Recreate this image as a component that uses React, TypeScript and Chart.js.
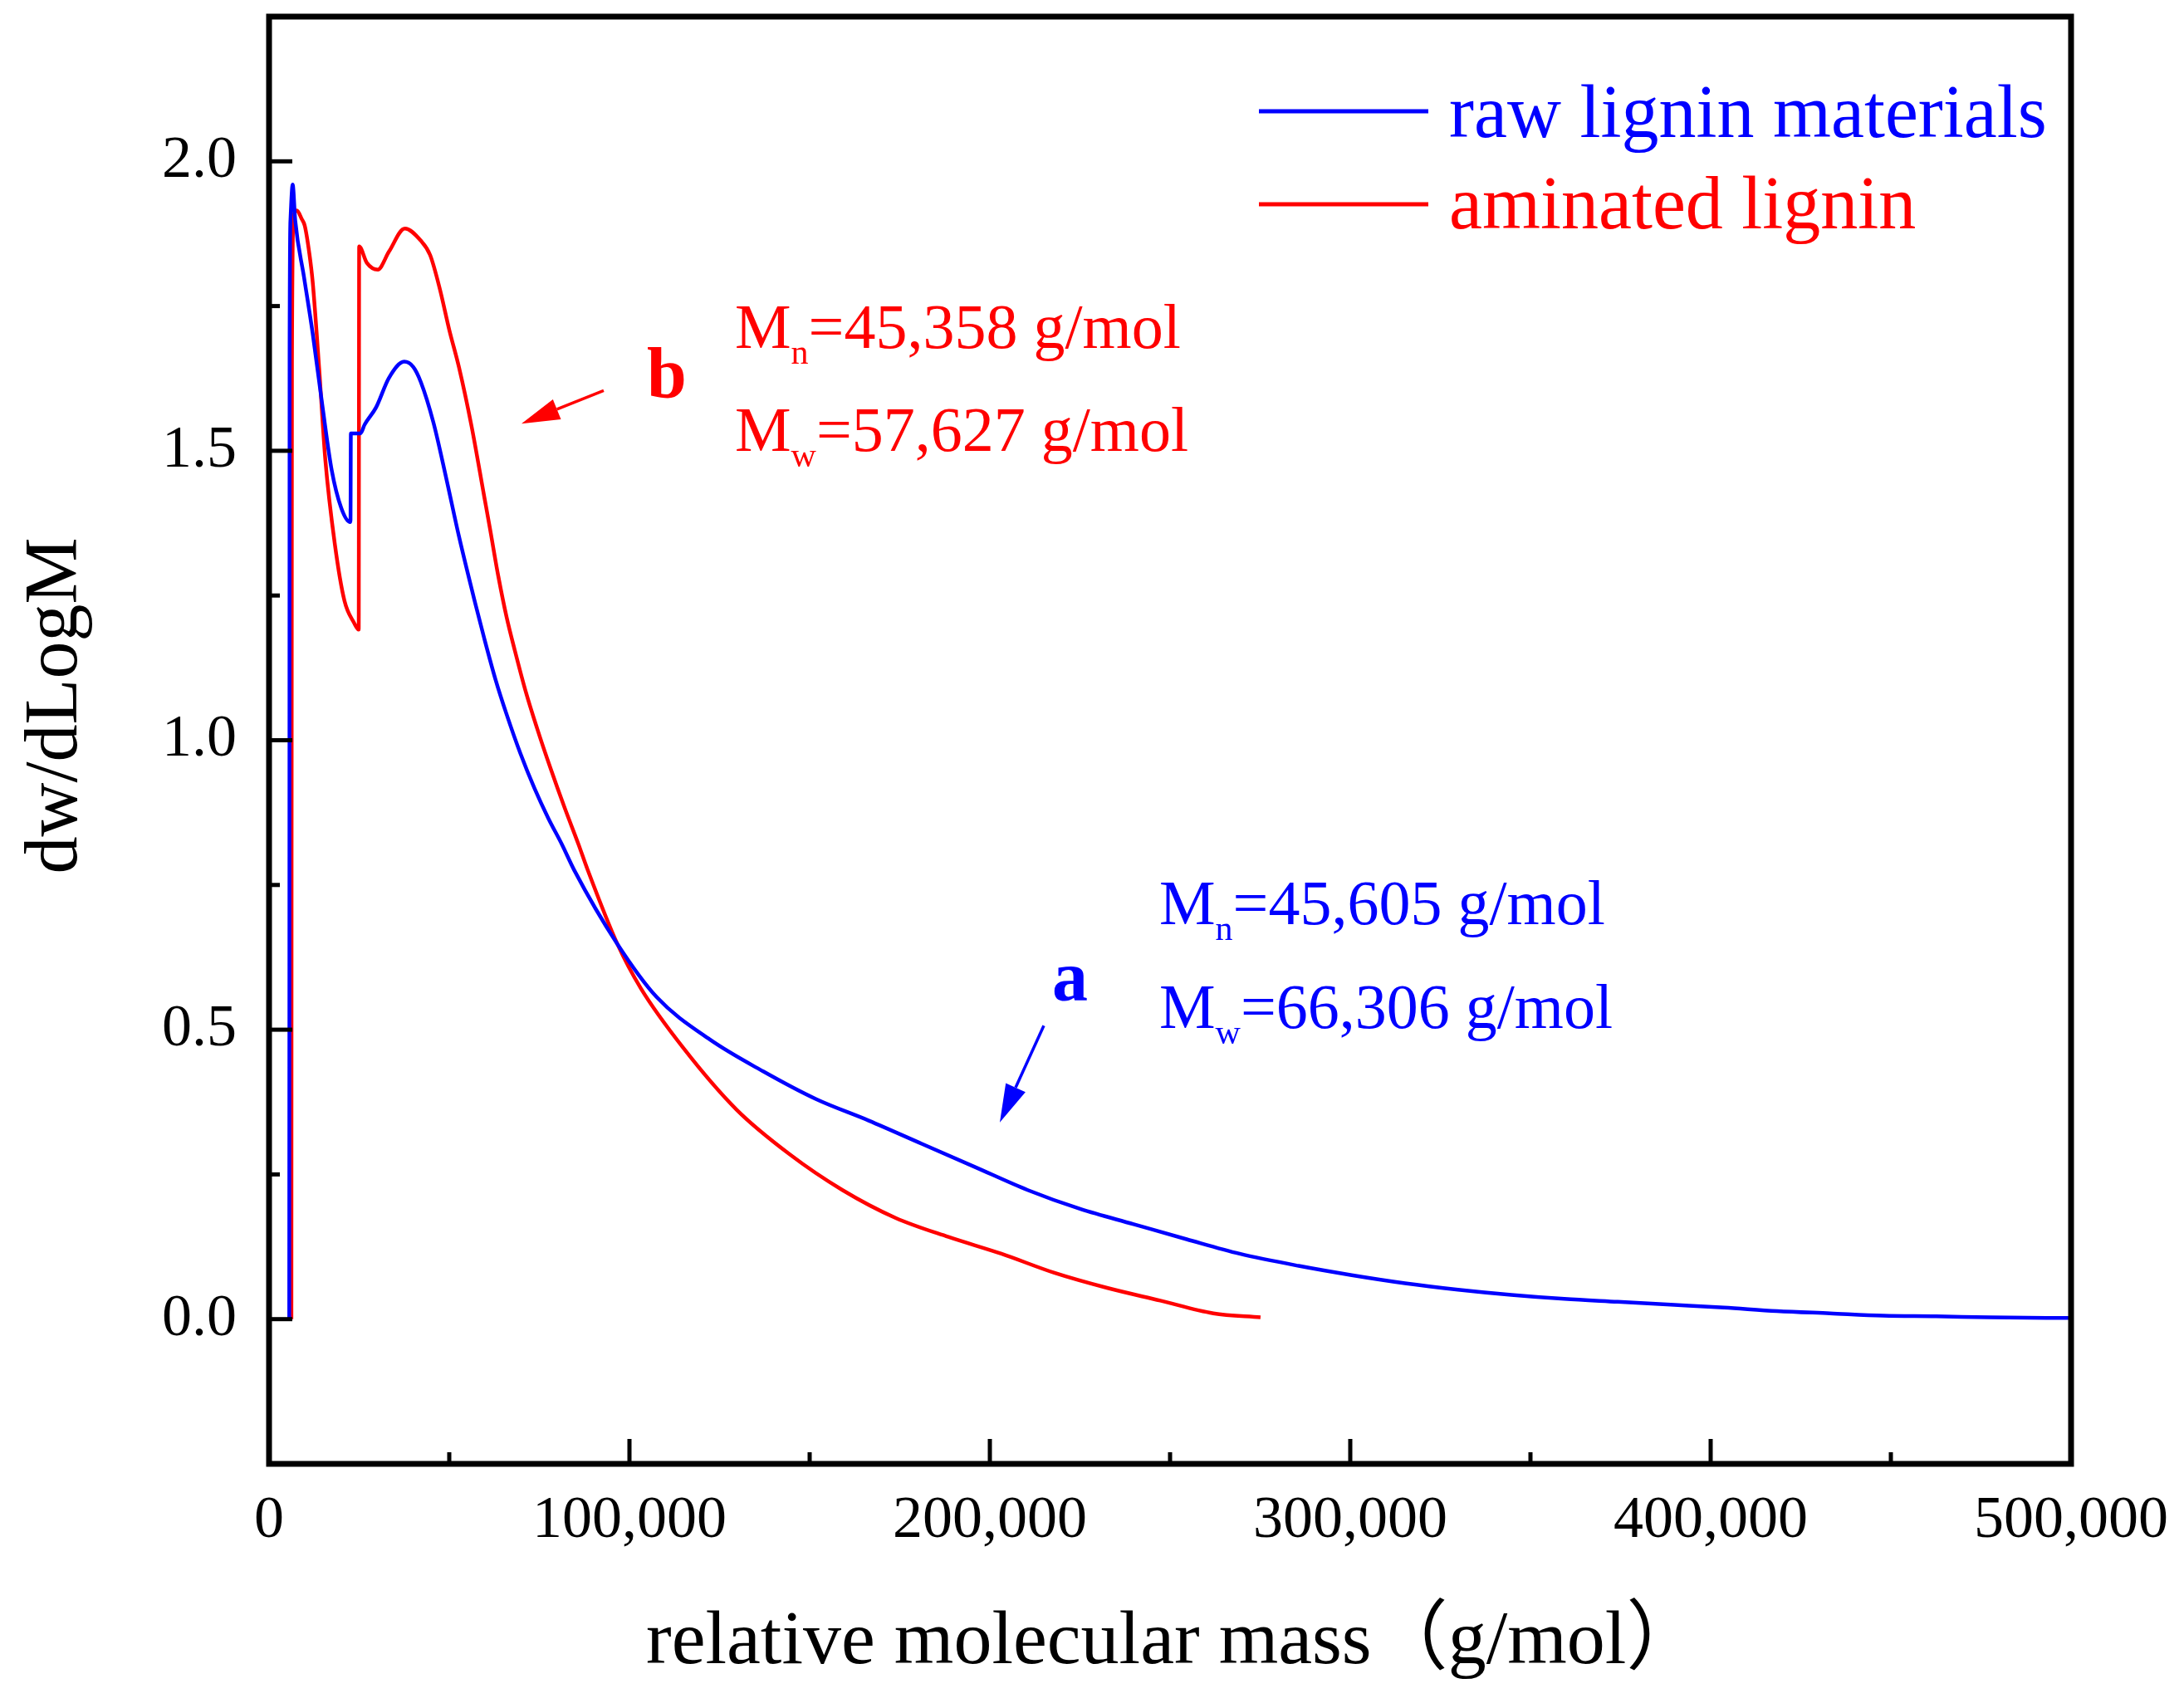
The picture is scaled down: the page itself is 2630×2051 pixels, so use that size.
import React, { useEffect, useRef } from 'react';
import { Chart, registerables } from 'chart.js';

Chart.register(...registerables);

// ---------- data ----------
const SERIES_LABELS = ['raw lignin materials', 'aminated lignin'];
const SERIES_COLORS = ['#0000ff', '#ff0000'];

const RAW_X = [
  5600, 5650, 5700, 5950, 6550, 7260, 9700, 12100, 14750, 17400, 20050, 22500, 22600, 22700,
  25350, 26500, 29700, 33270, 37500, 40000, 42100, 45600, 49150, 52700, 57070, 59750, 62830,
  65900, 69750, 73570, 77420, 81260, 84720, 96650, 107600, 122300, 137100, 151800, 166400,
  181100, 195800, 210500, 225200, 239900, 254600, 269300, 285700, 300400, 315200, 329900,
  344700, 359400, 374200, 388900, 403700, 418400, 433100, 447900, 462600, 477400, 500000,
];
const RAW_Y = [
  0, 0.61, 1.66, 1.9, 1.96, 1.898, 1.8, 1.703, 1.58, 1.466, 1.401, 1.377, 1.38, 1.53,
  1.53, 1.545, 1.575, 1.626, 1.654, 1.645, 1.619, 1.549, 1.453, 1.352, 1.24, 1.175, 1.105,
  1.045, 0.977, 0.918, 0.866, 0.82, 0.775, 0.648, 0.556, 0.483, 0.428, 0.38, 0.343,
  0.303, 0.263, 0.223, 0.19, 0.164, 0.138, 0.113, 0.092, 0.076, 0.062, 0.051,
  0.042, 0.035, 0.03, 0.025, 0.02, 0.014, 0.01, 0.006, 0.005, 0.003, 0.002,
];

const AMINATED_X = [
  6200, 6250, 6350, 6800, 7700, 9100, 9900, 11200, 12100, 13870, 15620, 18270, 20920, 23570,
  24880, 25000, 27100, 30180, 33270, 37670, 42100, 44700, 47370, 50000, 52670, 56200, 59700,
  61290, 63590, 65900, 68200, 71270, 74350, 78180, 82030, 85870, 88170, 96650, 103200, 115000,
  129700, 144400, 159100, 173800, 188500, 203200, 217900, 232500, 247300, 262000, 275100,
];
const AMINATED_Y = [
  0, 0.8, 1.65, 1.905, 1.915, 1.9, 1.889, 1.84, 1.792, 1.645, 1.484, 1.338, 1.241, 1.203,
  1.191, 1.853, 1.825, 1.813, 1.844, 1.884, 1.863, 1.838, 1.78, 1.709, 1.645, 1.542, 1.421,
  1.366, 1.284, 1.213, 1.155, 1.083, 1.021, 0.95, 0.883, 0.82, 0.78, 0.648, 0.571, 0.468,
  0.362, 0.285, 0.223, 0.175, 0.142, 0.113, 0.08, 0.054, 0.032, 0.01, 0.003,
];

const X_TICKS = [0, 100000, 200000, 300000, 400000, 500000];
const X_MINOR = [50000, 150000, 250000, 350000, 450000];
const Y_TICKS = [0, 0.5, 1.0, 1.5, 2.0];
const Y_MINOR = [0.25, 0.75, 1.25, 1.75];

const X_TITLE = 'relative molecular mass（g/mol）';
const Y_TITLE = 'dw/dLogM';

// annotation texts, anchored in data coordinates
const ANNOTATIONS = [
  { x: 129260, y: 1.678, main: 'M', sub: 'n', rest: '=45,358 g/mol', color: '#ff0000' },
  { x: 129260, y: 1.5, main: 'M', sub: 'w', rest: '=57,627 g/mol', color: '#ff0000' },
  { x: 247000, y: 0.682, main: 'M', sub: 'n', rest: '=45,605 g/mol', color: '#0000ff' },
  { x: 247000, y: 0.503, main: 'M', sub: 'w', rest: '=66,306 g/mol', color: '#0000ff' },
];
const LETTERS = [
  { x: 104840, y: 1.593, text: 'b', color: '#ff0000' },
  { x: 217280, y: 0.55, text: 'a', color: '#0000ff' },
];
const ARROWS = [
  { x0: 92850, y0: 1.604, x1: 70040, y1: 1.547, color: '#ff0000' },
  { x0: 214970, y0: 0.507, x1: 202760, y1: 0.34, color: '#0000ff' },
];

const SERIF = "'Liberation Serif', 'Times New Roman', 'Noto Sans CJK SC', serif";

const decorPlugin = {
  id: 'decor',
  afterDraw(chart: any) {
    const { ctx, chartArea: a, scales } = chart;
    const xs = scales.x;
    const ys = scales.y;
    ctx.save();

    // inward ticks
    ctx.strokeStyle = '#000';
    ctx.lineCap = 'butt';
    ctx.lineWidth = 5;
    const seg = (x0: number, y0: number, x1: number, y1: number) => {
      ctx.beginPath();
      ctx.moveTo(x0, y0);
      ctx.lineTo(x1, y1);
      ctx.stroke();
    };
    X_TICKS.forEach((v) => {
      const p = xs.getPixelForValue(v);
      seg(p, a.bottom, p, a.bottom - 30);
    });
    X_MINOR.forEach((v) => {
      const p = xs.getPixelForValue(v);
      seg(p, a.bottom, p, a.bottom - 14);
    });
    Y_TICKS.forEach((v) => {
      const p = ys.getPixelForValue(v);
      seg(a.left, p, a.left + 28, p);
    });
    Y_MINOR.forEach((v) => {
      const p = ys.getPixelForValue(v);
      seg(a.left, p, a.left + 13, p);
    });

    // frame
    ctx.lineWidth = 7;
    ctx.strokeRect(a.left, a.top, a.right - a.left, a.bottom - a.top);

    // legend
    const legendLineX0 = a.left + 1192;
    const legendLineX1 = a.left + 1396;
    const legendTextX = a.left + 1421;
    const rows = [
      { lineY: a.top + 114, base: a.top + 145 },
      { lineY: a.top + 226, base: a.top + 255 },
    ];
    chart.data.datasets.forEach((ds: any, i: number) => {
      const r = rows[i];
      ctx.strokeStyle = ds.borderColor;
      ctx.lineWidth = 5;
      seg(legendLineX0, r.lineY, legendLineX1, r.lineY);
      ctx.fillStyle = ds.borderColor;
      ctx.font = `90px ${SERIF}`;
      ctx.textAlign = 'left';
      ctx.textBaseline = 'alphabetic';
      ctx.fillText(ds.label, legendTextX, r.base);
    });

    // annotations with subscripts
    ANNOTATIONS.forEach((an) => {
      let px = xs.getPixelForValue(an.x);
      const py = ys.getPixelForValue(an.y);
      ctx.fillStyle = an.color;
      ctx.textAlign = 'left';
      ctx.textBaseline = 'alphabetic';
      ctx.font = `76px ${SERIF}`;
      ctx.fillText(an.main, px, py);
      px += ctx.measureText(an.main).width;
      ctx.font = `42px ${SERIF}`;
      ctx.fillText(an.sub, px, py + 19);
      px += ctx.measureText(an.sub).width;
      ctx.font = `76px ${SERIF}`;
      ctx.fillText(an.rest, px, py);
    });

    LETTERS.forEach((l) => {
      ctx.fillStyle = l.color;
      ctx.font = `bold 86px ${SERIF}`;
      ctx.textAlign = 'left';
      ctx.textBaseline = 'alphabetic';
      ctx.fillText(l.text, xs.getPixelForValue(l.x), ys.getPixelForValue(l.y));
    });

    ARROWS.forEach((ar) => {
      const x0 = xs.getPixelForValue(ar.x0);
      const y0 = ys.getPixelForValue(ar.y0);
      const x1 = xs.getPixelForValue(ar.x1);
      const y1 = ys.getPixelForValue(ar.y1);
      const ang = Math.atan2(y1 - y0, x1 - x0);
      const head = 46;
      const half = 13;
      const bx = x1 - head * Math.cos(ang);
      const by = y1 - head * Math.sin(ang);
      ctx.strokeStyle = ar.color;
      ctx.fillStyle = ar.color;
      ctx.lineWidth = 3.5;
      seg(x0, y0, bx, by);
      ctx.beginPath();
      ctx.moveTo(x1, y1);
      ctx.lineTo(bx + half * Math.sin(ang), by - half * Math.cos(ang));
      ctx.lineTo(bx - half * Math.sin(ang), by + half * Math.cos(ang));
      ctx.closePath();
      ctx.fill();
    });

    // axis titles
    ctx.fillStyle = '#000';
    ctx.font = `92px ${SERIF}`;
    ctx.textAlign = 'left';
    ctx.textBaseline = 'alphabetic';
    ctx.fillText(X_TITLE, a.left + 454, a.bottom + 240);

    ctx.font = `90px ${SERIF}`;
    ctx.textAlign = 'center';
    ctx.save();
    ctx.translate(92, a.top + 830);
    ctx.rotate(-Math.PI / 2);
    ctx.fillText(Y_TITLE, 0, 0);
    ctx.restore();

    ctx.restore();
  },
};

export default function App() {
  const canvasRef = useRef<HTMLCanvasElement | null>(null);

  useEffect(() => {
    if (!canvasRef.current) return;
    const chart = new Chart(canvasRef.current, {
      type: 'line',
      data: {
        datasets: [
          {
            label: SERIES_LABELS[0],
            data: RAW_X.map((x, i) => ({ x, y: RAW_Y[i] })),
            borderColor: SERIES_COLORS[0],
            backgroundColor: SERIES_COLORS[0],
            borderWidth: 4.5,
            pointRadius: 0,
            fill: false,
            cubicInterpolationMode: 'monotone',
          },
          {
            label: SERIES_LABELS[1],
            data: AMINATED_X.map((x, i) => ({ x, y: AMINATED_Y[i] })),
            borderColor: SERIES_COLORS[1],
            backgroundColor: SERIES_COLORS[1],
            borderWidth: 4.5,
            pointRadius: 0,
            fill: false,
            cubicInterpolationMode: 'monotone',
          },
        ],
      },
      options: {
        animation: false,
        responsive: true,
        maintainAspectRatio: false,
        layout: { padding: { top: 20, right: 136, left: 0, bottom: 0 } },
        plugins: {
          legend: { display: false },
          tooltip: { enabled: false },
        },
        scales: {
          x: {
            type: 'linear',
            min: 0,
            max: 500000,
            afterBuildTicks: (s: any) => {
              s.ticks = X_TICKS.map((v) => ({ value: v }));
            },
            afterFit: (s: any) => {
              s.height = 288;
              s.paddingLeft = 0;
              s.paddingRight = 0;
            },
            ticks: {
              autoSkip: false,
              maxRotation: 0,
              minRotation: 0,
              padding: 26,
              color: '#000',
              font: { family: SERIF, size: 72 },
              callback: (v: any) => Number(v).toLocaleString('en-US'),
            },
            grid: { display: false, drawTicks: false },
            border: { display: false },
          },
          y: {
            type: 'linear',
            min: -0.25,
            max: 2.25,
            afterBuildTicks: (s: any) => {
              s.ticks = Y_TICKS.map((v) => ({ value: v }));
            },
            afterFit: (s: any) => {
              s.width = 324;
              s.paddingTop = 0;
              s.paddingBottom = 0;
            },
            ticks: {
              padding: 39,
              color: '#000',
              font: { family: SERIF, size: 72 },
              callback: (v: any) => Number(v).toFixed(1),
            },
            grid: { display: false, drawTicks: false },
            border: { display: false },
          },
        },
      },
      plugins: [decorPlugin],
    });
    return () => chart.destroy();
  }, []);

  return (
    <div
      style={{
        position: 'absolute',
        left: 0,
        top: 0,
        width: 2630,
        height: 2051,
        background: '#ffffff',
      }}
    >
      <canvas ref={canvasRef} />
    </div>
  );
}
